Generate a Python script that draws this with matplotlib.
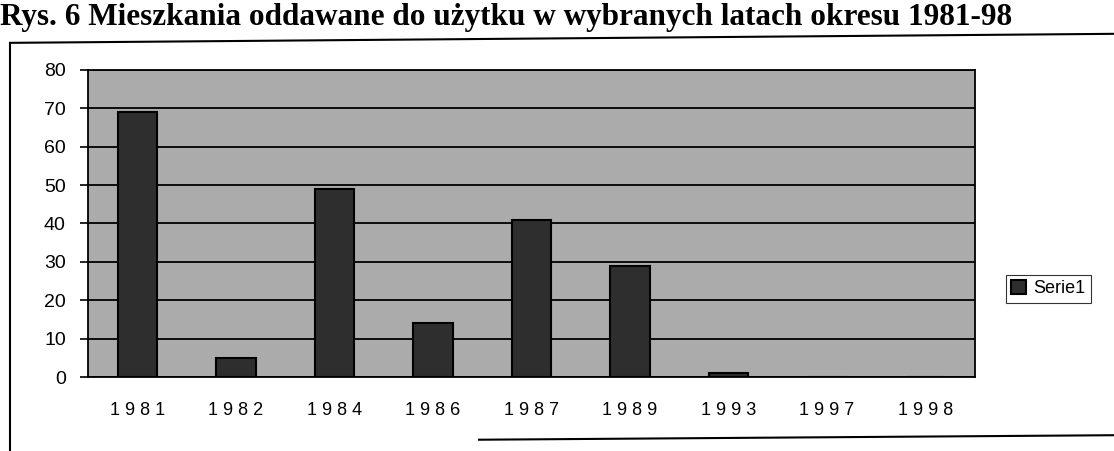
import matplotlib
matplotlib.use("Agg")
from matplotlib import pyplot as plt
from matplotlib.lines import Line2D

# values
years = ['1981', '1982', '1984', '1986', '1987', '1989', '1993', '1997', '1998']
flats = [69, 5, 49, 14, 41, 29, 1, 0, 0]
y_ticks = [0, 10, 20, 30, 40, 50, 60, 70, 80]
series_name = 'Serie1'
title = 'Rys. 6 Mieszkania oddawane do użytku w wybranych latach okresu 1981-98'

plt.rcParams['font.family'] = ['Liberation Sans', 'DejaVu Sans']

fig = plt.figure(figsize=(11.14, 4.51), dpi=100)
ax = fig.add_axes([0.079, 0.164, 0.796, 0.681])

ax.set_facecolor('#ababab')
ax.bar(range(len(years)), flats, width=0.4, color='#2e2e2e',
       edgecolor='black', linewidth=1.5, label=series_name, zorder=3)

ax.set_ylim(0, 80)
ax.set_xlim(-0.5, len(years) - 0.5)
ax.set_yticks(y_ticks)
ax.set_yticklabels([str(v) for v in y_ticks], fontsize=14)
ax.yaxis.grid(True, color='black', linewidth=1.3, zorder=1)
ax.set_axisbelow(True)
ax.set_xticks(range(len(years)))
ax.set_xticklabels([' '.join(y) for y in years], fontsize=13)
ax.tick_params(axis='x', length=0, pad=18)
ax.tick_params(axis='y', length=6, width=1.2, direction='out', pad=10)
for s in ax.spines.values():
    s.set_linewidth(1.3)

leg = fig.legend(loc='center left', bbox_to_anchor=(0.895, 0.36),
                 fontsize=13, frameon=True, fancybox=False,
                 handlelength=0.8, handleheight=0.8, handletextpad=0.4,
                 borderpad=0.3, labels=[series_name])
leg.get_frame().set_edgecolor('black')
leg.get_frame().set_linewidth(0.8)

fig.text(0.0, 0.962, title, fontsize=22.5, fontweight='bold',
         family=['Liberation Serif', 'DejaVu Serif'], va='center', ha='left')

# outer frame of the scanned figure
fig.add_artist(Line2D([0.009, 1.0], [0.905, 0.925], color='black', lw=1.5))
fig.add_artist(Line2D([0.009, 0.009], [0.0, 0.905], color='black', lw=1.5))
fig.add_artist(Line2D([0.43, 1.0], [0.025, 0.035], color='black', lw=1.5))

fig.savefig('out.png', dpi=100)
